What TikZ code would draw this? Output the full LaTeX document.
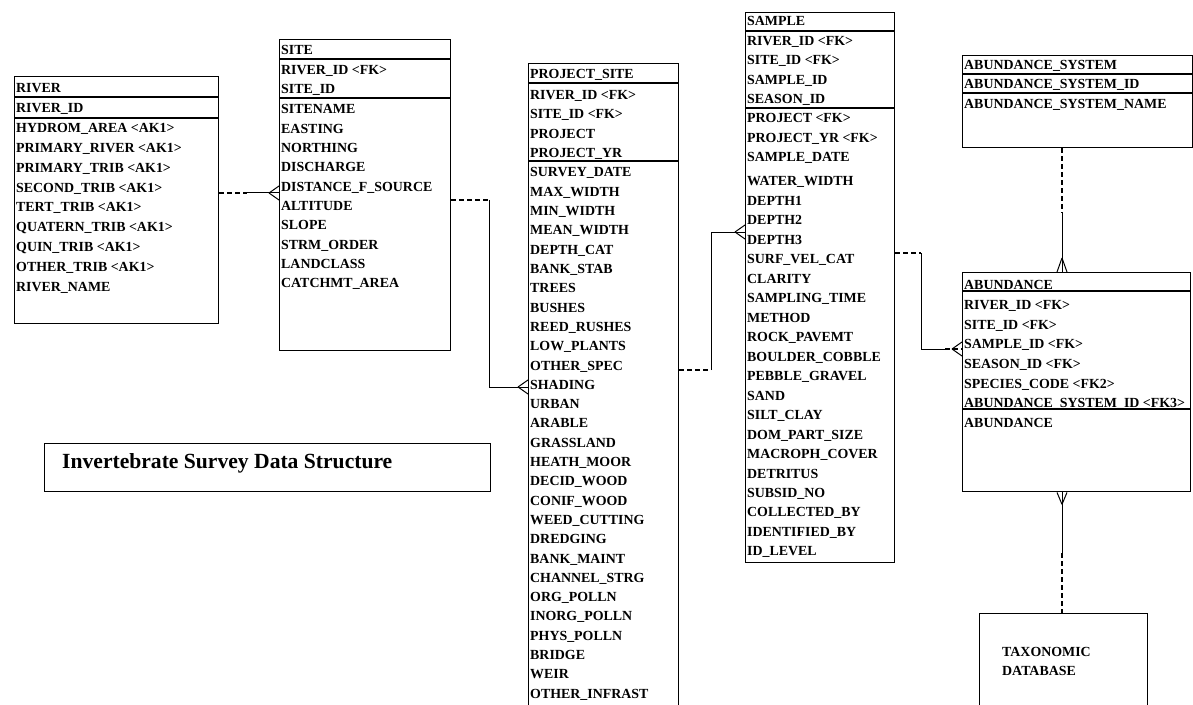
\documentclass[tikz,border=0pt]{standalone}
\usepackage{fontspec}
\setmainfont{Liberation Serif}
\newcommand\entsize{\fontsize{13.9bp}{17bp}\selectfont}
\usetikzlibrary{calc}

\tikzset{
  ebox/.style={draw, line width=1.4bp, inner sep=0pt, anchor=north west},
  div/.style={line width=1.3bp},
  row/.style={anchor=west, inner sep=0pt, text height=10bp, text depth=0bp, font=\bfseries\entsize},
  rel/.style={line width=1bp},
  dashrel/.style={line width=1.8bp, dash pattern=on 5bp off 3bp},
  crowW/.pic={\draw[rel] (-10,0) -- (0,-7) (-10,0) -- (0,7);},
  crowN/.pic={\draw[rel] (0,-14) -- (-5,0) (0,-14) -- (5,0);},
  crowS/.pic={\draw[rel] (0,12) -- (-5,0) (0,12) -- (5,0);}
}

\begin{document}
\begin{tikzpicture}[x=1bp, y=-1bp]
\useasboundingbox (0,0) rectangle (1193,705);
\clip (0,0) rectangle (1193,705);

% ---------- entity frames ----------
\node[ebox, minimum width=204bp, minimum height=247bp] (river)  at (14,76)  {};
\node[ebox, minimum width=171bp, minimum height=311bp] (site)   at (279,39) {};
\node[ebox, minimum width=150bp, minimum height=680bp] (psite)  at (528,63) {};
\node[ebox, minimum width=149bp, minimum height=550bp] (sample) at (745,12) {};
\node[ebox, minimum width=230bp, minimum height=92bp]  (abs)    at (962,55) {};
\node[ebox, minimum width=228bp, minimum height=219bp] (abund)  at (962,272) {};
\node[ebox, minimum width=168bp, minimum height=120bp] (tax)    at (979,613) {};
\node[ebox, line width=1.1bp, minimum width=446bp, minimum height=48bp] (title) at (44,443) {};

% ---------- header / key dividers ----------
\draw[div] (river.north west)  ++(0,21)  -- ++(204,0);
\draw[div] (river.north west)  ++(0,42)  -- ++(204,0);
\draw[div] (site.north west)   ++(0,20)  -- ++(171,0);
\draw[div] (site.north west)   ++(0,59)  -- ++(171,0);
\draw[div] (psite.north west)  ++(0,20)  -- ++(150,0);
\draw[div] (psite.north west)  ++(0,98)  -- ++(150,0);
\draw[div] (sample.north west) ++(0,19)  -- ++(149,0);
\draw[div] (sample.north west) ++(0,96)  -- ++(149,0);
\draw[div] (abs.north west)    ++(0,19)  -- ++(230,0);
\draw[div] (abs.north west)    ++(0,38)  -- ++(230,0);
\draw[div] (abund.north west)  ++(0,19)  -- ++(228,0);
\draw[div] (abund.north west)  ++(0,137) -- ++(228,0);

% ---------- RIVER ----------
\node[row] (river-h) at (16,88)  {RIVER};
\node[row] (river-k) at (16,108) {RIVER\_ID};
\foreach \t [count=\i from 0] in {HYDROM\_AREA <AK1>, PRIMARY\_RIVER <AK1>, PRIMARY\_TRIB <AK1>,
  SECOND\_TRIB <AK1>, TERT\_TRIB <AK1>, QUATERN\_TRIB <AK1>, QUIN\_TRIB <AK1>,
  OTHER\_TRIB <AK1>, RIVER\_NAME}
  \node[row] (river-r\i) at (16,{128+19.75*\i}) {\t};

% ---------- SITE ----------
\node[row] (site-h)  at (281,50) {SITE};
\node[row] (site-k1) at (281,70) {RIVER\_ID <FK>};
\node[row] (site-k2) at (281,89) {SITE\_ID};
\foreach \t [count=\i from 0] in {SITENAME, EASTING, NORTHING, DISCHARGE, DISTANCE\_F\_SOURCE,
  ALTITUDE, SLOPE, STRM\_ORDER, LANDCLASS, CATCHMT\_AREA}
  \node[row] (site-r\i) at (281,{109+19.3*\i}) {\t};

% ---------- PROJECT_SITE ----------
\node[row] (psite-h)  at (530,74)  {PROJECT\_SITE};
\node[row] (psite-k1) at (530,95)  {RIVER\_ID <FK>};
\node[row] (psite-k2) at (530,114) {SITE\_ID <FK>};
\node[row] (psite-k3) at (530,134) {PROJECT};
\node[row] (psite-k4) at (530,153) {PROJECT\_YR};
\foreach \t [count=\i from 0] in {SURVEY\_DATE, MAX\_WIDTH, MIN\_WIDTH, MEAN\_WIDTH, DEPTH\_CAT,
  BANK\_STAB, TREES, BUSHES, REED\_RUSHES, LOW\_PLANTS, OTHER\_SPEC, SHADING, URBAN, ARABLE,
  GRASSLAND, HEATH\_MOOR, DECID\_WOOD, CONIF\_WOOD, WEED\_CUTTING, DREDGING, BANK\_MAINT,
  CHANNEL\_STRG, ORG\_POLLN, INORG\_POLLN, PHYS\_POLLN, BRIDGE, WEIR, OTHER\_INFRAST}
  \node[row] (psite-r\i) at (530,{172+19.3*\i}) {\t};

% ---------- SAMPLE ----------
\node[row] (sample-h)  at (747,21)  {SAMPLE};
\node[row] (sample-k1) at (747,41)  {RIVER\_ID <FK>};
\node[row] (sample-k2) at (747,60)  {SITE\_ID <FK>};
\node[row] (sample-k3) at (747,80)  {SAMPLE\_ID};
\node[row] (sample-k4) at (747,99)  {SEASON\_ID};
\node[row] (sample-a1) at (747,118) {PROJECT <FK>};
\node[row] (sample-a2) at (747,138) {PROJECT\_YR <FK>};
\node[row] (sample-a3) at (747,157) {SAMPLE\_DATE};
\foreach \t [count=\i from 0] in {WATER\_WIDTH, DEPTH1, DEPTH2, DEPTH3, SURF\_VEL\_CAT, CLARITY,
  SAMPLING\_TIME, METHOD, ROCK\_PAVEMT, BOULDER\_COBBLE, PEBBLE\_GRAVEL, SAND, SILT\_CLAY,
  DOM\_PART\_SIZE, MACROPH\_COVER, DETRITUS, SUBSID\_NO, COLLECTED\_BY, IDENTIFIED\_BY, ID\_LEVEL}
  \node[row] (sample-r\i) at (747,{181+19.47*\i}) {\t};

% ---------- ABUNDANCE_SYSTEM ----------
\node[row] (abs-h) at (964,65)  {ABUNDANCE\_SYSTEM};
\node[row] (abs-k) at (964,84)  {ABUNDANCE\_SYSTEM\_ID};
\node[row] (abs-a) at (964,104) {ABUNDANCE\_SYSTEM\_NAME};

% ---------- ABUNDANCE ----------
\node[row] (abund-h) at (964,284) {ABUNDANCE};
\foreach \t/\y [count=\i from 0] in {RIVER\_ID <FK>/304, SITE\_ID <FK>/324, SAMPLE\_ID <FK>/343,
  SEASON\_ID <FK>/363, SPECIES\_CODE <FK2>/383, ABUNDANCE\_SYSTEM\_ID <FK3>/402}
  \node[row] (abund-k\i) at (964,\y) {\t};
\node[row] (abund-a) at (964,422) {ABUNDANCE};

% ---------- TAXONOMIC DATABASE ----------
\node[row] (tax-1) at (1002,651) {TAXONOMIC};
\node[row] (tax-2) at (1002,670) {DATABASE};

% ---------- title ----------
\node[anchor=west, inner sep=0pt, font=\bfseries\fontsize{21.6bp}{25bp}\selectfont]
  (title-t) at (62,463) {Invertebrate Survey Data Structure};

% ---------- relationship levels ----------
\coordinate (lvRS)  at (0,193);
\coordinate (lvSP)  at (0,200);
\coordinate (lvSPc) at (0,387);
\coordinate (lvPS)  at (0,370);
\coordinate (lvPSc) at (0,232);
\coordinate (lvSA)  at (0,253);
\coordinate (lvSAc) at (0,349);
\coordinate (axA)   at (1062,0);

% RIVER -> SITE
\draw[dashrel] (river.east |- lvRS) -- ++(28,0) coordinate (rs1);
\draw[rel] (rs1) -- (site.west |- lvRS);
\pic at (site.west |- lvRS) {crowW};

% SITE -> PROJECT_SITE
\draw[dashrel] (site.east |- lvSP) -- ++(38,0) coordinate (sp1);
\draw[rel] (sp1) |- (psite.west |- lvSPc);
\pic at (psite.west |- lvSPc) {crowW};

% PROJECT_SITE -> SAMPLE
\draw[dashrel] (psite.east |- lvPS) -- ++(32,0) coordinate (ps1);
\draw[rel] (ps1) |- (sample.west |- lvPSc);
\pic at (sample.west |- lvPSc) {crowW};

% SAMPLE -> ABUNDANCE
\draw[dashrel] (sample.east |- lvSA) -- ++(26,0) coordinate (sa1);
\draw[rel] (sa1) |- ++(24,96) coordinate (sa2);
\draw[dashrel] (sa2) -- (abund.west |- lvSAc);
\pic at (abund.west |- lvSAc) {crowW};

% ABUNDANCE_SYSTEM -> ABUNDANCE
\draw[dashrel] (abs.south -| axA) -- ++(0,65) coordinate (as1);
\draw[rel] (as1) -- (abund.north -| axA);
\pic at (abund.north -| axA) {crowN};

% TAXONOMIC DATABASE -> ABUNDANCE
\draw[rel] (abund.south -| axA) -- ++(0,61) coordinate (at1);
\draw[dashrel] (at1) -- (tax.north -| axA);
\pic at (abund.south -| axA) {crowS};

\end{tikzpicture}
\end{document}
